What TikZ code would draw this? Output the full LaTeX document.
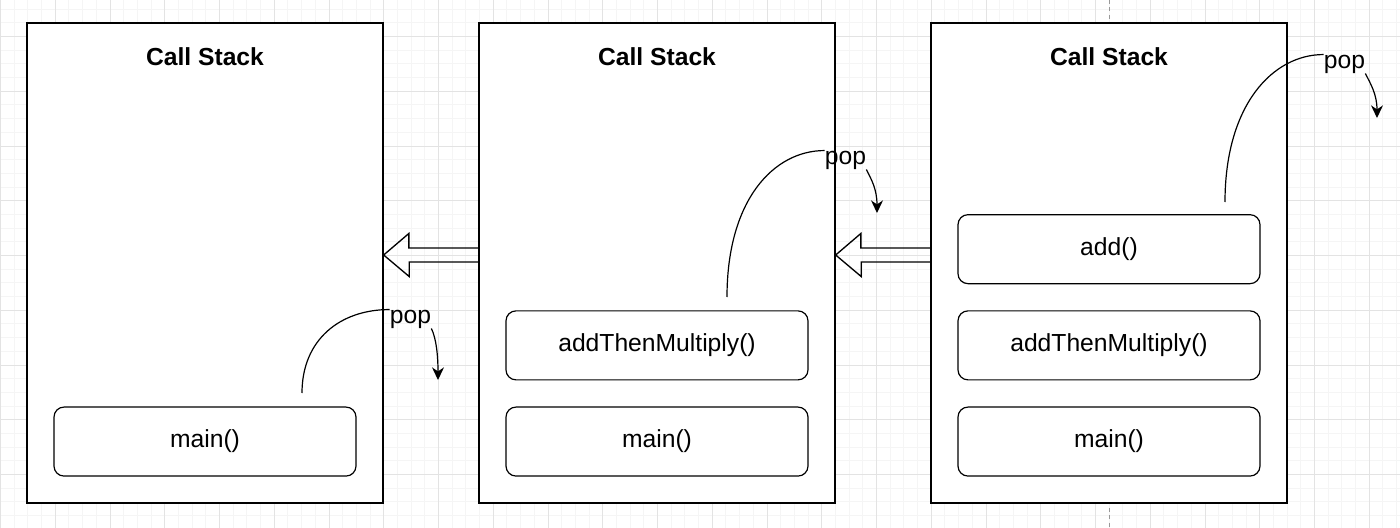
\documentclass[tikz,border=0pt]{standalone}
\usepackage{fontspec}
\setmainfont{Liberation Sans}
\usetikzlibrary{positioning,arrows.meta}

\begin{document}
\begin{tikzpicture}[x=0.75pt, y=-0.75pt, >={Stealth[length=9.5pt,width=9pt]},
    node distance=19.5pt,
    stack/.style={draw, line width=1pt, fill=white, inner sep=0pt,
                  minimum width=267pt, minimum height=360pt},
    frame/.style={draw, line width=0.9pt, rounded corners=7.5pt, fill=white,
                  inner sep=0pt, minimum width=226.5pt, minimum height=51.75pt,
                  font=\fontsize{18.5}{21}\selectfont},
    title/.style={inner sep=0pt, font=\fontsize{18.5}{21}\selectfont\bfseries},
    pop/.style={inner sep=0pt, font=\fontsize{18.5}{21}\selectfont},
    popline/.style={line width=0.9pt},
    hollow/.style={line width=1pt, line join=miter}]

  \useasboundingbox (0,0) rectangle (1400,528);

  % background grid
  \begin{scope}
    \clip (0,0) rectangle (1400,528);
    \begin{scope}[shift={(0.5,36.5)}]
      \draw[black!4, line width=0.75pt, step=10.265625pt] (-20,-60) grid (1420,520);
      \draw[black!11, line width=0.75pt, step=41.0625pt] (-20,-60) grid (1420,520);
    \end{scope}
    \draw[black!40, line width=0.75pt, dash pattern=on 3pt off 2.6pt] (1109,0) -- (1109,528);
  \end{scope}

  % stacks
  \node[stack] (s1) at (205,263) {};
  \node[stack] (s2) at (657,263) {};
  \node[stack] (s3) at (1109,263) {};

  \node[title, below=19pt of s1.north] (t1) {Call Stack};
  \node[title, below=19pt of s2.north] (t2) {Call Stack};
  \node[title, below=19pt of s3.north] (t3) {Call Stack};

  % frames
  \node[frame, above=20.25pt of s1.south] (m1) {main()};

  \node[frame, above=20.25pt of s2.south] (m2) {main()};
  \node[frame, above=of m2]               (a2) {addThenMultiply()};

  \node[frame, above=20.25pt of s3.south] (m3) {main()};
  \node[frame, above=of m3]               (a3) {addThenMultiply()};
  \node[frame, above=of a3]               (d3) {add()};

  % pop curves
  \coordinate (c1) at (302,393);
  \coordinate (c2) at (727,297);
  \coordinate (c3) at (1225,202);
  \node[pop] (p1) at (410.5,319) {pop};
  \node[pop] (p2) at (845.5,160) {pop};
  \node[pop] (p3) at (1344.5,64) {pop};
  \coordinate (e1) at (438,380);
  \coordinate (e2) at (877,213);
  \coordinate (e3) at (1377,118);

  \draw[popline] (c1) .. controls +(0,-53) and +(-50,0) .. (p1.north west);
  \draw[popline] (c2) .. controls +(0,-97) and +(-51,0) .. (p2.north west);
  \draw[popline] (c3) .. controls +(0,-97) and +(-51,0) .. (p3.north west);

  \draw[popline,->] (p1.south east) .. controls +(5,10) and +(0,-24) .. (e1);
  \draw[popline,->] (p2.south east) .. controls +(5,10) and +(0,-24) .. (e2);
  \draw[popline,->] (p3.south east) .. controls +(5,10) and +(0,-24) .. (e3);

  % hollow arrows between stacks
  \coordinate (h1) at ([yshift=6pt]s1.east);
  \coordinate (h2) at ([yshift=6pt]s2.east);
  \draw[hollow] ([yshift=11.25pt]s2.west) -- ++(-69.5,0) -- ++(0,-14.5) -- (h1)
                -- ++(25.5,21.5) -- ++(0,-14.5) -- ++(69.5,0);
  \draw[hollow] ([yshift=11.25pt]s3.west) -- ++(-69.5,0) -- ++(0,-14.5) -- (h2)
                -- ++(25.5,21.5) -- ++(0,-14.5) -- ++(69.5,0);

\end{tikzpicture}
\end{document}
